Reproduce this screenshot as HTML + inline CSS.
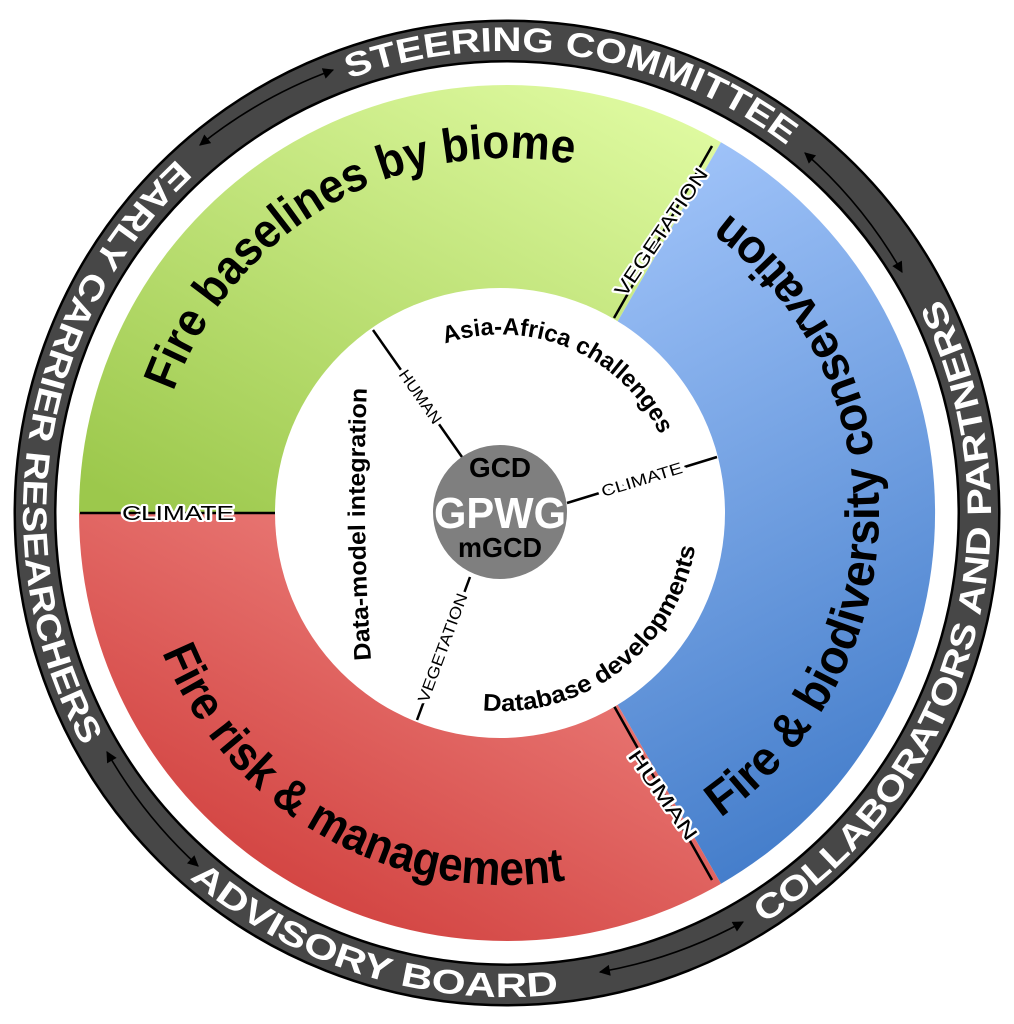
<!DOCTYPE html>
<html><head><meta charset="utf-8"><style>
html,body{margin:0;padding:0;background:#fff;}
svg{display:block;}
text{font-family:"Liberation Sans",sans-serif;}
</style></head><body>
<svg width="1014" height="1024" viewBox="0 0 1014 1024" xmlns="http://www.w3.org/2000/svg">
<defs>
<linearGradient id="gg" x1="0.9" y1="0" x2="0.1" y2="1"><stop offset="0" stop-color="#e0fba2"/><stop offset="1" stop-color="#9cc84c"/></linearGradient>
<linearGradient id="gb" x1="0.2" y1="0" x2="0.5" y2="1"><stop offset="0" stop-color="#a6c8fc"/><stop offset="1" stop-color="#457ecb"/></linearGradient>
<linearGradient id="gr" x1="0.9" y1="0" x2="0.1" y2="1"><stop offset="0" stop-color="#f28d89"/><stop offset="1" stop-color="#cc3533"/></linearGradient>
<marker id="ah" viewBox="0 0 10 10" refX="9" refY="5" markerWidth="13" markerHeight="11" orient="auto-start-reverse" markerUnits="userSpaceOnUse"><path d="M0,0 L10,5 L0,10 z" fill="#000"/></marker>
<path id="p1" d="M349.0,78.9 A462,462 0 0 1 797.7,154.0"/>
<path id="p2" d="M763.5,923.4 A484,484 0 0 0 934.3,285.8"/>
<path id="p3" d="M189.5,878.3 A484,484 0 0 0 574.4,992.3"/>
<path id="p4" d="M176.9,159.0 A484,484 0 0 0 87.9,755"/>
<path id="s1" d="M173.4,391.6 A355,355 0 0 1 574.7,164.5"/>
<path id="s2" d="M720.4,817.7 A372,372 0 0 0 720.4,208.3"/>
<path id="s3" d="M162.1,652.4 A372,372 0 0 0 571.6,879.3"/>
<path id="i1" d="M445.0,343.7 A176,176 0 0 1 661.3,437.8"/>
<path id="i2" d="M482.7,710.2 A196,196 0 0 0 696.1,540.6"/>
<path id="i3" d="M371,660 Q361,520 367,385"/>
</defs>

<circle cx="507" cy="513" r="472" fill="none" stroke="#000" stroke-width="43"/>
<circle cx="507" cy="513" r="472" fill="none" stroke="#474747" stroke-width="38"/>

<g fill="none" stroke="#000" stroke-width="1.6" marker-start="url(#ah)" marker-end="url(#ah)">
<path d="M200,145 A472,472 0 0 1 333,70"/>
<path d="M805,153 A468,468 0 0 1 902,272"/>
<path d="M743,922 A470,470 0 0 1 600,972"/>
<path d="M107,752 A470,470 0 0 0 198,866"/>
</g>

<g fill="#fff" font-weight="bold" font-size="34">
<text><textPath href="#p1" textLength="462" lengthAdjust="spacingAndGlyphs">STEERING COMMITTEE</textPath></text>
<text><textPath href="#p2" textLength="712" lengthAdjust="spacingAndGlyphs">COLLABORATORS AND PARTNERS</textPath></text>
<text><textPath href="#p3" textLength="398" lengthAdjust="spacingAndGlyphs">ADVISORY BOARD</textPath></text>
<text><textPath href="#p4" textLength="640" lengthAdjust="spacingAndGlyphs">EARLY CARRIER RESEARCHERS</textPath></text>
</g>

<path d="M507,513 L79,513 A428,428 0 0 1 721,142.3 Z" fill="url(#gg)"/>
<path d="M507,513 L721,142.3 A428,428 0 0 1 721,883.7 Z" fill="url(#gb)"/>
<path d="M507,513 L721,883.7 A428,428 0 0 1 79,513 Z" fill="url(#gr)"/>
<g stroke="#000" stroke-width="2.5">
<line x1="614" y1="318" x2="712" y2="146"/>
<line x1="614" y1="706" x2="712" y2="880"/>
<line x1="80" y1="513" x2="276" y2="513"/>
</g>

<circle cx="500" cy="513" r="225" fill="#fff"/>

<g fill="#000" font-weight="bold" font-size="48">
<text><textPath href="#s1" textLength="500" lengthAdjust="spacingAndGlyphs">Fire baselines by biome</textPath></text>
<text><textPath href="#s2" textLength="705" lengthAdjust="spacingAndGlyphs">Fire &amp; biodiversity conservation</textPath></text>
<text><textPath href="#s3" textLength="500" lengthAdjust="spacingAndGlyphs">Fire risk &amp; management</textPath></text>
</g>

<g font-size="20" fill="#000" stroke="#fff" stroke-width="4" paint-order="stroke" stroke-linejoin="round" text-anchor="middle">
<text x="178" y="520" textLength="112" lengthAdjust="spacingAndGlyphs">CLIMATE</text>
<text transform="translate(661,232) rotate(-56)" x="0" y="7" textLength="150" lengthAdjust="spacingAndGlyphs">VEGETATION</text>
<text transform="translate(663,795) rotate(55)" x="0" y="7" textLength="105" lengthAdjust="spacingAndGlyphs">HUMAN</text>
</g>

<g stroke="#000" stroke-width="2.5">
<line x1="373" y1="330" x2="462" y2="457"/>
<line x1="567" y1="503" x2="717" y2="457"/>
<line x1="470" y1="577" x2="417" y2="720"/>
</g>
<g font-size="16" fill="#000" stroke="#fff" stroke-width="7" paint-order="stroke" text-anchor="middle">
<text transform="translate(420,397) rotate(55)" x="0" y="5" textLength="62" lengthAdjust="spacingAndGlyphs">HUMAN</text>
<text transform="translate(642,480) rotate(-17)" x="0" y="5" textLength="84" lengthAdjust="spacingAndGlyphs">CLIMATE</text>
<text transform="translate(443,648) rotate(-69.7)" x="0" y="5" textLength="115" lengthAdjust="spacingAndGlyphs">VEGETATION</text>
</g>

<g fill="#000" font-weight="bold" font-size="24">
<text><textPath href="#i1" textLength="255" lengthAdjust="spacingAndGlyphs">Asia-Africa challenges</textPath></text>
<text><textPath href="#i2" textLength="295" lengthAdjust="spacingAndGlyphs">Database developments</textPath></text>
<text><textPath href="#i3" textLength="272" lengthAdjust="spacingAndGlyphs">Data-model integration</textPath></text>
</g>

<circle cx="500" cy="512" r="67" fill="#7f7f7f"/>
<g text-anchor="middle" font-weight="bold">
<text x="500" y="477" font-size="28" fill="#000" textLength="62" lengthAdjust="spacingAndGlyphs">GCD</text>
<text x="500" y="528" font-size="44" fill="#fff" textLength="132" lengthAdjust="spacingAndGlyphs">GPWG</text>
<text x="500" y="557" font-size="28" fill="#000" textLength="84" lengthAdjust="spacingAndGlyphs">mGCD</text>
</g>
</svg>
</body></html>
